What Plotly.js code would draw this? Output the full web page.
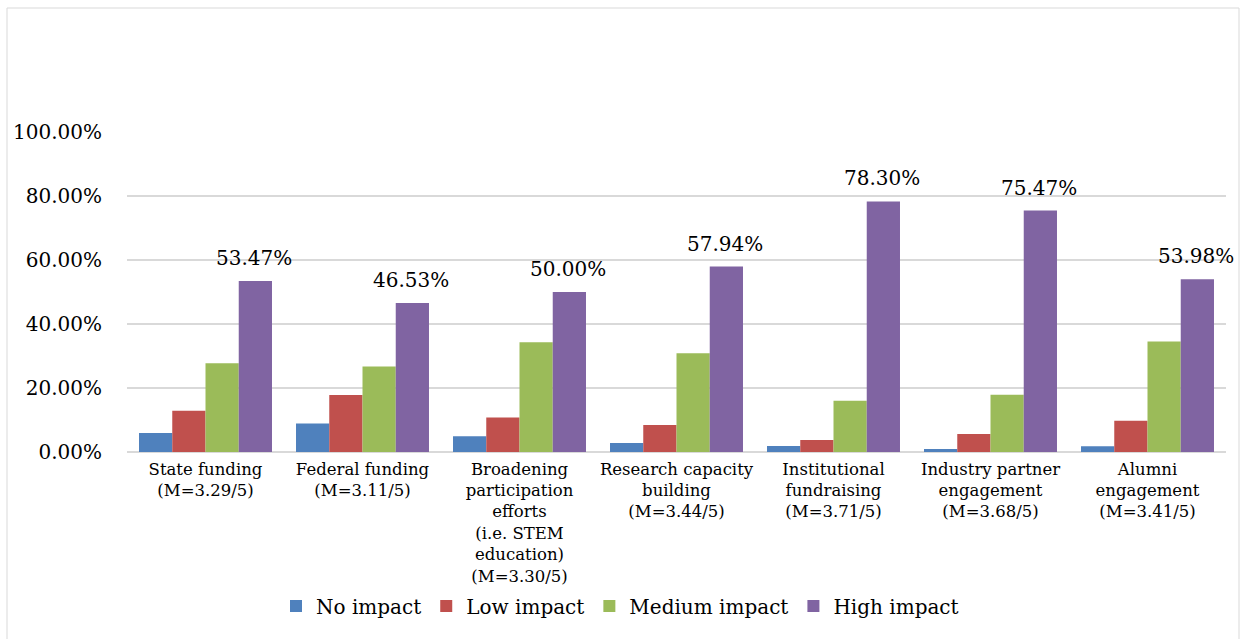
<!DOCTYPE html>
<html>
<head>
<meta charset="utf-8">
<script src="https://cdn.plot.ly/plotly-3.0.1.min.js"></script>
<style>html,body{margin:0;padding:0;background:#fff;}#chart{width:1244px;height:639px;}</style>
</head>
<body>
<div id="chart"></div>
<script>
const categories = [
  "State funding<br>(M=3.29/5)",
  "Federal funding<br>(M=3.11/5)",
  "Broadening<br>participation<br>efforts<br>(i.e. STEM<br>education)<br>(M=3.30/5)",
  "Research capacity<br>building<br>(M=3.44/5)",
  "Institutional<br>fundraising<br>(M=3.71/5)",
  "Industry partner<br>engagement<br>(M=3.68/5)",
  "Alumni<br>engagement<br>(M=3.41/5)"
];
const noImpact     = [0.0594, 0.0891, 0.0490, 0.0280, 0.0189, 0.0094, 0.0177];
const lowImpact    = [0.1287, 0.1782, 0.1078, 0.0841, 0.0377, 0.0566, 0.0973];
const mediumImpact = [0.2772, 0.2673, 0.3431, 0.3084, 0.1604, 0.1792, 0.3451];
const highImpact   = [0.5347, 0.4653, 0.5000, 0.5794, 0.7830, 0.7547, 0.5398];
const seriesNames  = ["No impact", "Low impact", "Medium impact", "High impact"];
const colors       = ["#4F81BD", "#C0504D", "#9BBB59", "#8064A2"];

const FONT = "DejaVu Serif, Liberation Serif, serif";
const allSeries = [noImpact, lowImpact, mediumImpact, highImpact];
const traces = allSeries.map((vals, i) => ({
  type: "bar",
  name: seriesNames[i],
  x: categories,
  y: vals,
  marker: {color: colors[i]},
  hoverinfo: "skip"
}));

// data labels on the High impact bars (offset to the 4th bar of each group)
const labelAnnotations = highImpact.map((v, i) => ({
  x: categories[i], y: v, xref: "x", yref: "y",
  text: (v * 100).toFixed(2) + "%",
  showarrow: false,
  xanchor: "center", yanchor: "bottom",
  xshift: 48, yshift: 9,
  font: {family: FONT, size: 20, color: "#000"}
}));

const L = 127, R = 1226, T = 132, B = 452;
const px = v => (v - L) / (R - L);
const py = v => (B - v) / (B - T);

const layout = {
  width: 1244, height: 639,
  margin: {l: L, r: 1244 - R, t: T, b: 639 - B, pad: 0},
  paper_bgcolor: "#fff", plot_bgcolor: "#fff",
  font: {family: FONT, color: "#000"},
  barmode: "group",
  bargap: 0.153,
  bargroupgap: 0,
  showlegend: true,
  legend: {
    orientation: "h",
    x: px(620), xanchor: "center",
    y: py(606), yanchor: "middle",
    font: {family: FONT, size: 20, color: "#000"},
    traceorder: "normal"
  },
  xaxis: {
    type: "category",
    range: [-0.5, categories.length - 0.5],
    autorange: false,
    tickfont: {family: FONT, size: 16.5, color: "#000"},
    showgrid: false,
    showline: false,
    ticks: "",
    ticklabelstandoff: 5,
    fixedrange: true
  },
  yaxis: {
    range: [0, 1],
    autorange: false,
    dtick: 0.2,
    tick0: 0,
    tickformat: ".2%",
    tickfont: {family: FONT, size: 20, color: "#000"},
    showgrid: true,
    gridcolor: "#D9D9D9",
    gridwidth: 1.5,
    zeroline: true,
    zerolinecolor: "#D9D9D9",
    zerolinewidth: 1.5,
    showline: false,
    ticks: "",
    ticklabelstandoff: 24,
    fixedrange: true
  },
  annotations: labelAnnotations,
  shapes: [{
    type: "rect", xref: "paper", yref: "paper",
    x0: px(7), x1: px(1239), y0: py(660), y1: py(8),
    line: {color: "#D9D9D9", width: 1},
    fillcolor: "rgba(0,0,0,0)",
    layer: "below"
  }]
};

Plotly.newPlot("chart", traces, layout, {displayModeBar: false, staticPlot: true});
</script>
</body>
</html>
